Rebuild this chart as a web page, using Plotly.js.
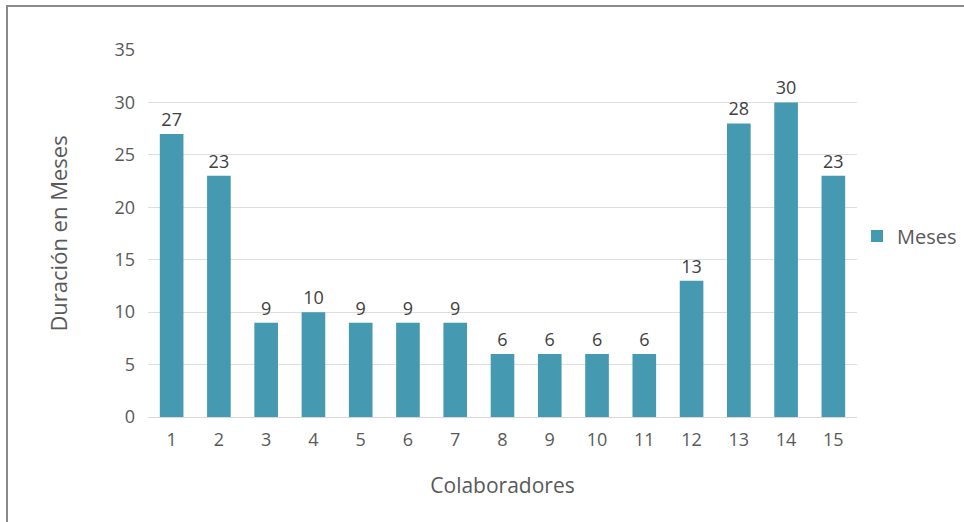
<!DOCTYPE html>
<html>
<head>
<meta charset="utf-8">
<script src="https://cdn.plot.ly/plotly-3.0.1.min.js"></script>
<style>
  html, body { margin: 0; padding: 0; background: #ffffff; }
  #wrap { position: relative; width: 964px; height: 522px; }
  #chart { width: 964px; height: 522px; }
  #frame {
    position: absolute; left: 6px; top: 5px; right: 0; bottom: 0;
    border-top: 2px solid #8a8a8a; border-left: 2px solid #8a8a8a;
    pointer-events: none;
  }
</style>
</head>
<body>
<div id="wrap">
  <div id="chart"></div>
  <div id="frame"></div>
</div>
<script>
// Months worked per collaborator
const colaboradores = ['1','2','3','4','5','6','7','8','9','10','11','12','13','14','15'];
const meses = [27, 23, 9, 10, 9, 9, 9, 6, 6, 6, 6, 13, 28, 30, 23];
const yTicks = [0, 5, 10, 15, 20, 25, 30, 35];

const fontFamily = '"Open Sans", "Noto Sans", sans-serif';

const trace = {
  type: 'bar',
  name: 'Meses',
  x: colaboradores,
  y: meses,
  marker: { color: '#4599b1' },
  text: meses.map(String),
  textposition: 'outside',
  textfont: { family: fontFamily, size: 18, color: '#404040' },
  cliponaxis: false,
  hoverinfo: 'none'
};

const layout = {
  width: 964,
  height: 522,
  margin: { l: 148, r: 106, t: 50, b: 105 },
  paper_bgcolor: '#ffffff',
  plot_bgcolor: '#ffffff',
  bargap: 0.5,
  showlegend: true,
  font: { family: fontFamily, color: '#595959', size: 18 },
  xaxis: {
    type: 'category',
    tickfont: { size: 18, color: '#595959' },
    ticks: '',
    ticklabelstandoff: 6,
    showline: true,
    linecolor: '#d9d9d9',
    linewidth: 1,
    title: { text: 'Colaboradores', font: { size: 21, color: '#595959' }, standoff: 28 }
  },
  yaxis: {
    range: [0, 35],
    tickvals: yTicks,
    ticktext: yTicks.map(String),
    tickfont: { size: 18, color: '#595959' },
    showgrid: true,
    gridcolor: '#dedede',
    gridwidth: 1,
    zeroline: false,
    ticks: '',
    ticklabelstandoff: 12,
    title: { text: 'Duración en Meses', font: { size: 22, color: '#595959' }, standoff: 40 }
  },
  legend: {
    xref: 'container', yref: 'container',
    x: 0.889, xanchor: 'left',
    y: 0.548, yanchor: 'middle',
    font: { size: 20, color: '#595959' },
    bgcolor: 'rgba(0,0,0,0)',
    itemwidth: 30
  }
};

Plotly.newPlot('chart', [trace], layout, { displayModeBar: false, staticPlot: true });
</script>
</body>
</html>
